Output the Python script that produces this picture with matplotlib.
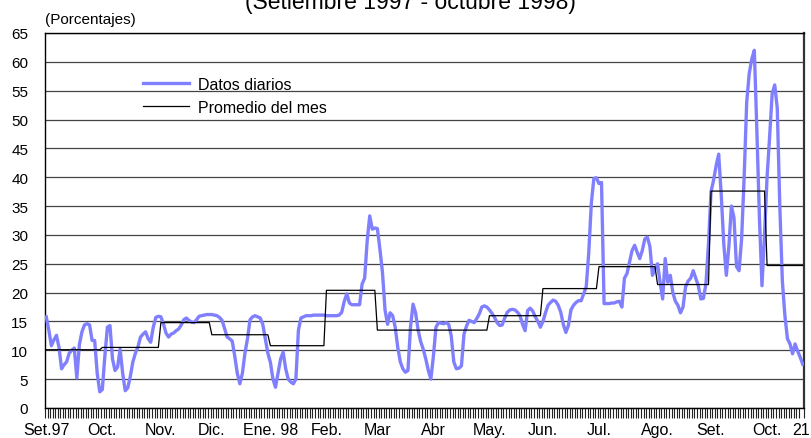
import matplotlib
matplotlib.use('Agg')
import matplotlib.pyplot as plt
import numpy as np

plt.rcParams['font.family'] = ['Liberation Sans', 'DejaVu Sans']

# Daily values (business days, Sep 1997 - Oct 21 1998)
daily = [
    15.8, 13.5, 10.8, 11.8, 12.6, 10.5, 6.8, 7.5, 8.0, 9.5,
    10.0, 10.4, 5.2, 11.0, 13.2, 14.4, 14.6, 14.4, 11.7, 11.7,
    6.0, 2.8, 3.2, 9.0, 14.0, 14.3, 8.5, 6.5, 7.1, 10.2,
    6.0, 3.0, 3.5, 5.5, 8.0, 9.5, 10.6, 12.3, 12.8, 13.2,
    12.0, 11.4, 14.0, 15.7, 15.9, 15.8, 14.6, 13.0, 12.3, 12.8,
    13.0, 13.4, 13.7, 14.4, 15.3, 15.6, 15.2, 14.9, 14.8, 15.3,
    15.9, 16.0, 16.1, 16.2, 16.2, 16.2, 16.1, 16.0, 15.7, 15.2,
    13.8, 12.3, 12.0, 11.6, 9.0, 6.0, 4.2, 6.0, 9.5, 12.0,
    15.3, 15.8, 16.0, 15.8, 15.6, 14.5, 12.0, 9.5, 7.9, 5.0,
    3.6, 6.0, 8.5, 9.7, 6.8, 5.0, 4.5, 4.2, 5.0, 13.5,
    15.6, 15.8, 16.0, 16.0, 16.0, 16.1, 16.1, 16.1, 16.1, 16.1,
    16.0, 16.0, 16.0, 16.0, 16.0, 16.1, 16.6, 18.5, 19.8, 18.2,
    17.9, 17.9, 17.9, 17.9, 21.5, 22.5, 29.0, 33.3, 31.0, 31.2,
    31.1, 27.5, 23.5, 17.0, 14.5, 16.5, 16.0, 14.0, 10.5, 8.0,
    6.8, 6.2, 6.5, 14.0, 18.0, 16.5, 13.5, 11.5, 10.2, 8.5,
    6.5, 5.0, 9.0, 14.0, 14.8, 14.7, 14.6, 14.8, 14.5, 12.5,
    8.0, 6.8, 6.9, 7.3, 12.8, 14.2, 15.2, 15.0, 14.8, 15.5,
    16.3, 17.5, 17.7, 17.5, 17.0, 16.4, 15.7, 14.8, 14.3, 14.4,
    15.6, 16.6, 17.0, 17.1, 17.0, 16.6, 16.0, 14.5, 13.4, 16.9,
    17.3, 16.8, 15.8, 15.0, 14.0, 15.0, 16.5, 17.8, 18.3, 18.7,
    18.5, 17.8, 16.6, 14.5, 13.1, 14.3, 17.0, 17.8, 18.3, 18.6,
    18.6, 19.8, 21.0, 27.0, 35.5, 39.8, 39.9, 38.9, 39.1, 18.1,
    18.1, 18.1, 18.2, 18.2, 18.4, 18.5, 17.5, 22.5, 23.3, 25.3,
    27.3, 28.2, 27.0, 25.9, 27.3, 29.3, 29.6, 28.0, 23.0, 24.1,
    25.0, 21.8, 18.9, 25.9, 21.8, 23.0, 20.0, 18.5, 17.8, 16.5,
    17.5, 21.0, 22.0, 22.5, 23.8, 22.5, 21.2, 18.9, 19.0, 21.5,
    28.5, 37.5, 39.5, 42.0, 44.0, 37.0, 28.5, 23.0, 28.0, 35.0,
    33.0, 24.5, 23.8, 29.3, 40.0, 53.0, 58.0, 60.5, 62.0, 48.0,
    33.0, 21.2, 30.0, 40.0, 47.0, 54.5, 56.0, 52.0, 35.0, 22.0,
    16.0, 12.0, 11.1, 9.4, 11.1, 9.9, 8.8, 7.6,
]

# Monthly averages and number of business days per month
month_labels = ['Set.97', 'Oct.', 'Nov.', 'Dic.', 'Ene. 98', 'Feb.', 'Mar',
                'Abr', 'May.', 'Jun.', 'Jul.', 'Ago.', 'Set.', 'Oct.']
month_days = [22, 23, 20, 23, 22, 20, 22, 22, 21, 22, 23, 21, 22, 15]
month_avg = [10.1, 10.5, 14.8, 12.7, 10.8, 20.4, 13.5, 13.5, 16.0, 20.7,
             24.5, 21.4, 37.6, 24.7]

x = np.arange(len(daily))
avg_daily = np.repeat(month_avg, month_days)
month_start = np.concatenate([[0], np.cumsum(month_days)[:-1]])

fig = plt.figure(figsize=(8.11, 4.39), dpi=100)
ax = fig.add_axes([45/811, 1-409/439, 759/811, 375/439])

ax.plot(x, daily, color='#8080FF', lw=2.4, label='Datos diarios', zorder=3,
        solid_joinstyle='round')
ax.plot(x, avg_daily, color='black', lw=0.9, label='Promedio del mes', zorder=4)

ax.set_xlim(-0.5, len(daily) - 0.5)
ax.set_ylim(0, 65)
ax.set_yticks(np.arange(0, 66, 5))
ax.yaxis.grid(True, color='#444444', lw=0.9)
ax.set_axisbelow(True)
ax.tick_params(axis='y', length=0, pad=12, labelsize=11)

# category boundaries as hatch ticks, month labels under them
ax.set_xticks(np.arange(-0.5, len(daily), 1), minor=True)
ax.set_xticks(list(month_start) + [len(daily) - 1.5])
ax.set_xticklabels(month_labels + ['21'])
ax.tick_params(axis='x', which='minor', length=7, width=0.8, color='#222222')
ax.tick_params(axis='x', which='major', length=0, pad=10, labelsize=11.5)

for s in ['left', 'bottom', 'top']:
    ax.spines[s].set_linewidth(1)
ax.spines['right'].set_linewidth(1.6)
ax.spines['right'].set_color('#333333')

leg = ax.legend(loc='upper left', bbox_to_anchor=(0.129, 0.883), frameon=False,
                borderaxespad=0, borderpad=0, handlelength=2.9, handletextpad=0.55,
                labelspacing=0.5, fontsize=11.5)

fig.text(410/811, 1-9/439, '(Setiembre 1997 - octubre 1998)', ha='center',
         va='baseline', fontsize=16.5)
fig.text(45/811, 1-20/439, '(Porcentajes)', ha='left', va='center', fontsize=11)

fig.savefig('out.png', dpi=100)
